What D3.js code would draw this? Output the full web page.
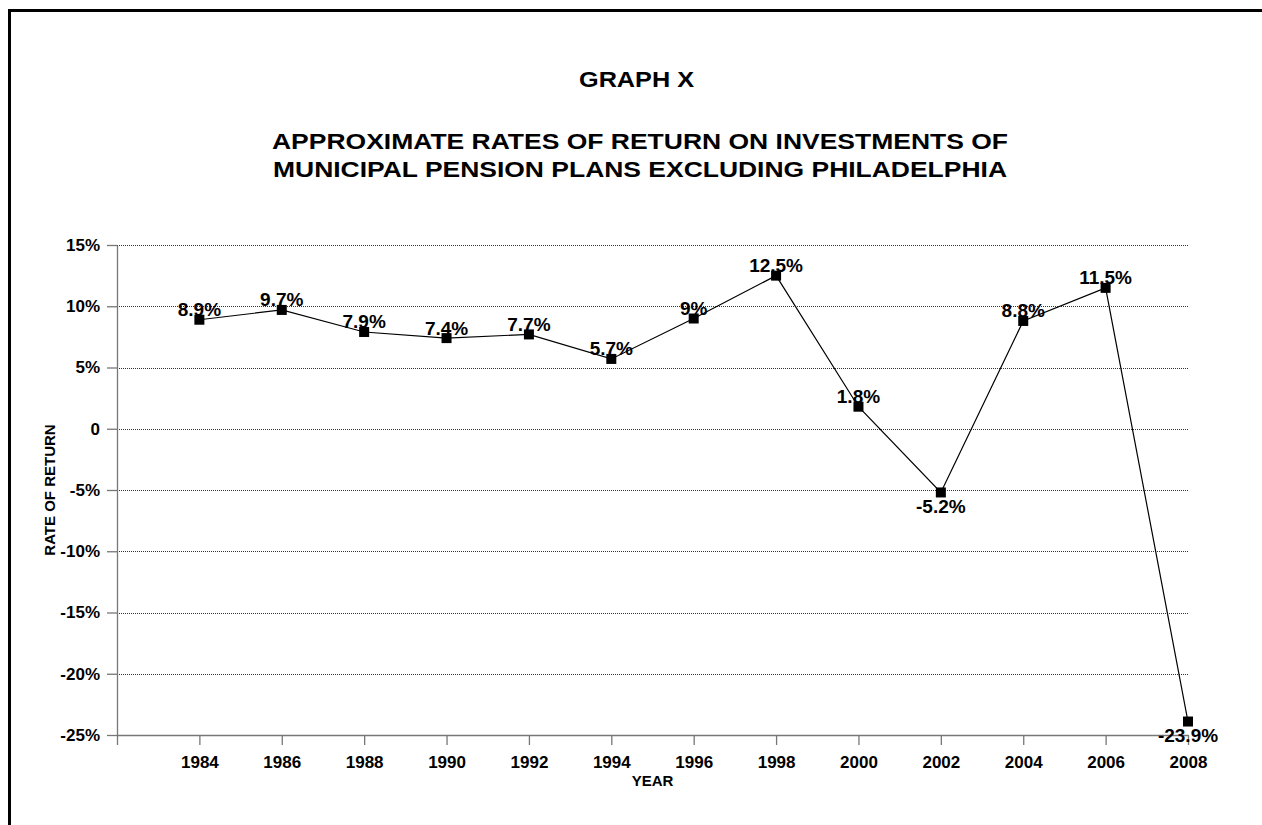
<!DOCTYPE html>
<html>
<head>
<meta charset="utf-8">
<script src="https://cdnjs.cloudflare.com/ajax/libs/d3/7.8.5/d3.min.js"></script>
<style>
    body { margin: 0; background: #fff; }
    svg { display: block; font-family: "Liberation Sans", Arial, sans-serif; }
    .axis path, .axis line { stroke: #777; stroke-width: 1.3px; }
    .axis text { font-size: 17px; font-weight: bold; fill: #000; }
    .grid line { stroke: #333; stroke-width: 1px; stroke-dasharray: 1,1; }
    .title { font-weight: bold; font-size: 22px; fill: #000; }
    .label { font-weight: bold; font-size: 19px; fill: #000; }
    .axis-title { font-weight: bold; font-size: 15px; fill: #000; }
</style>
</head>
<body>
<div id="chart"></div>
<script>
// chart data
var years = [1984, 1986, 1988, 1990, 1992, 1994, 1996, 1998, 2000, 2002, 2004, 2006, 2008];
var returns = [8.9, 9.7, 7.9, 7.4, 7.7, 5.7, 9, 12.5, 1.8, -5.2, 8.8, 11.5, -23.9];
var returnLabels = ["8.9%", "9.7%", "7.9%", "7.4%", "7.7%", "5.7%", "9%", "12.5%", "1.8%", "-5.2%", "8.8%", "11.5%", "-23.9%"];
var yTicks = [15, 10, 5, 0, -5, -10, -15, -20, -25];
var yTickLabels = ["15%", "10%", "5%", "0", "-5%", "-10%", "-15%", "-20%", "-25%"];
var titleLines = ["GRAPH X", "APPROXIMATE RATES OF RETURN ON INVESTMENTS OF", "MUNICIPAL PENSION PLANS EXCLUDING PHILADELPHIA"];

var chart = (function () {
    var width = 1262, height = 825,
        plot = {left: 117, right: 1188, top: 245, bottom: 735};

    var svg = d3.select("#chart").append("svg")
        .attr("width", width)
        .attr("height", height);

    // frame (top and left edges only)
    svg.append("path")
        .attr("d", "M9.5,825 V10.5 H1262")
        .attr("fill", "none")
        .attr("stroke", "#000")
        .attr("stroke-width", 3);

    // titles
    var titlePos = [
        {x: 636.5, y: 86.5, len: 115},
        {x: 640, y: 148.5, len: 736},
        {x: 640, y: 177, len: 734}
    ];
    svg.selectAll("text.title")
        .data(titleLines)
        .enter().append("text")
        .attr("class", "title")
        .attr("text-anchor", "middle")
        .attr("x", function (d, i) { return titlePos[i].x; })
        .attr("y", function (d, i) { return titlePos[i].y; })
        .attr("textLength", function (d, i) { return titlePos[i].len; })
        .attr("lengthAdjust", "spacingAndGlyphs")
        .text(function (d) { return d; });

    // scales
    var x = d3.scaleLinear()
        .domain([years[0] - 2, years[years.length - 1]])
        .range([plot.left, plot.right]);

    var y = d3.scaleLinear()
        .domain([d3.min(yTicks), d3.max(yTicks)])
        .range([plot.bottom, plot.top]);

    // dotted gridlines
    svg.append("g")
        .attr("class", "grid")
        .selectAll("line")
        .data(yTicks.filter(function (d) { return d !== d3.min(yTicks); }))
        .enter().append("line")
        .attr("x1", plot.left)
        .attr("x2", plot.right)
        .attr("y1", function (d) { return Math.round(y(d)) + 0.5; })
        .attr("y2", function (d) { return Math.round(y(d)) + 0.5; });

    // axes
    var yAxis = d3.axisLeft(y)
        .tickValues(yTicks)
        .tickSize(10)
        .tickSizeOuter(0)
        .tickPadding(7)
        .tickFormat(function (d, i) { return yTickLabels[i]; });

    var xAxis = d3.axisBottom(x)
        .tickValues([years[0] - 2].concat(years))
        .tickSize(10)
        .tickSizeOuter(0)
        .tickPadding(11)
        .tickFormat(function (d, i) { return i === 0 ? "" : d; });

    svg.append("g")
        .attr("class", "y axis")
        .attr("transform", "translate(" + plot.left + ",0)")
        .call(yAxis);

    svg.append("g")
        .attr("class", "x axis")
        .attr("transform", "translate(0," + plot.bottom + ")")
        .call(xAxis);

    svg.selectAll(".axis .domain").attr("stroke", "#777");

    // axis titles
    svg.append("text")
        .attr("class", "axis-title")
        .attr("text-anchor", "middle")
        .attr("x", (plot.left + plot.right) / 2)
        .attr("y", 786)
        .text("YEAR");

    svg.append("text")
        .attr("class", "axis-title")
        .attr("text-anchor", "middle")
        .attr("transform", "translate(55," + ((plot.top + plot.bottom) / 2) + ") rotate(-90)")
        .text("RATE OF RETURN");

    // data labels
    svg.selectAll("text.label")
        .data(returns)
        .enter().append("text")
        .attr("class", "label")
        .attr("text-anchor", "middle")
        .attr("x", function (d, i) { return x(years[i]); })
        .attr("y", function (d) { return d < 0 ? y(d) + 20.5 : y(d) - 3.5; })
        .text(function (d, i) { return returnLabels[i]; });

    // line
    var line = d3.line()
        .x(function (d, i) { return x(years[i]); })
        .y(function (d) { return y(d); })
        .curve(d3.curveLinear);

    svg.append("path")
        .attr("d", line(returns))
        .attr("fill", "none")
        .attr("stroke", "#000")
        .attr("stroke-width", 1.2);

    // square markers
    var markerSize = 10;
    svg.selectAll("rect.marker")
        .data(returns)
        .enter().append("rect")
        .attr("class", "marker")
        .attr("x", function (d, i) { return x(years[i]) - markerSize / 2; })
        .attr("y", function (d) { return y(d) - markerSize / 2; })
        .attr("width", markerSize)
        .attr("height", markerSize)
        .attr("fill", "#000");

    return {x: x, y: y};
})();
</script>
</body>
</html>
